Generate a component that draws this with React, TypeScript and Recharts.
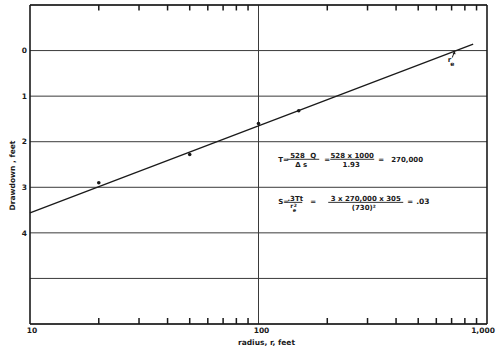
import React from 'react';
import {
  ComposedChart,
  Scatter,
  XAxis,
  YAxis,
  CartesianGrid,
  ReferenceLine,
  ReferenceDot,
} from 'recharts';

// observed drawdown in observation wells
const wellRadius = [20, 50, 100, 150];
const wellDrawdown = [2.9, 2.28, 1.6, 1.32];

// straight line fitted through the points
const fitRadius = [10, 870];
const fitDrawdown = [3.56, -0.14];

const radiusTicks = [10, 20, 30, 40, 50, 60, 70, 80, 90, 100, 200, 300, 400, 500, 600, 700, 800, 900, 1000];
const radiusLabels: Record<number, string> = { 10: '10', 100: '100', 1000: '1,000' };
const drawdownTicks = [-1, 0, 1, 2, 3, 4, 5, 6];
const drawdownLabels = [0, 1, 2, 3, 4];

const reRadius = 730;

const wells = wellRadius.map((r, i) => ({ r, s: wellDrawdown[i] }));
const fit = fitRadius.map((r, i) => ({ r, s: fitDrawdown[i] }));

const INK = '#1a1a1a';
const GRID = '#3a3a3a';
const FONT = '"DejaVu Sans", sans-serif';
const txt = { fontFamily: FONT, fontWeight: 700, fill: INK } as const;

// frame limits and the small inward tick marks along top and bottom
const yTop = drawdownTicks[0];
const yBottom = drawdownTicks[drawdownTicks.length - 1];
const minorTicks = radiusTicks.filter((r) => !radiusLabels[r]);
const TOP_TICK = 0.12; // drawdown units, about 5-6 px

// label nudges so the numbers sit like the hand lettering
const labelDx: Record<number, number> = { 10: 2, 100: 3, 1000: -4 };

const BottomTick = (props: any) => {
  const { x, y, payload } = props;
  const v = payload.value as number;
  const label = radiusLabels[v];
  if (label) {
    return (
      <text x={x + (labelDx[v] || 0)} y={y + 9} textAnchor="middle" fontSize={7.5} style={txt}>
        {label}
      </text>
    );
  }
  return <rect x={x - 0.75} y={y - 6} width={1.5} height={6} fill={INK} />;
};

const WellDot = (props: any) => <circle cx={props.cx} cy={props.cy} r={1.8} fill={INK} />;
const NoDot = () => <g />;

const ReMark = (props: any) => {
  const { cx, cy } = props;
  return (
    <g>
      <line x1={cx - 1.5} y1={cy + 1.5} x2={cx - 3.5} y2={cy + 7} stroke={INK} strokeWidth={1} />
      <polygon points={`${cx - 1},${cy + 0.5} ${cx - 3.2},${cy + 3.5} ${cx - 0.2},${cy + 3.8}`} fill={INK} />
      <text x={cx - 8} y={cy + 11} fontSize={7} style={txt}>r</text>
      <text x={cx - 5.5} y={cy + 15.5} fontSize={6} style={txt}>e</text>
    </g>
  );
};

const Bar = ({ x1, x2, y }: { x1: number; x2: number; y: number }) => (
  <line x1={x1} x2={x2} y1={y} y2={y} stroke={INK} strokeWidth={0.9} />
);

const FormulaT = (props: any) => {
  const { cx: ox, cy: oy } = props;
  return (
    <g fontSize={7} style={txt}>
      <text x={ox} y={oy + 2.5}>T=</text>
      <text x={ox + 12} y={oy - 1.5}>528</text>
      <text x={ox + 32} y={oy - 1.5}>Q</text>
      <Bar x1={ox + 9} x2={ox + 41} y={oy - 0.2} />
      <text x={ox + 23} y={oy + 7.5} textAnchor="middle">Δ s</text>
      <text x={ox + 46} y={oy + 2.5}>=</text>
      <text x={ox + 74} y={oy - 1.5} textAnchor="middle">528 x 1000</text>
      <Bar x1={ox + 52} x2={ox + 96} y={oy - 0.2} />
      <text x={ox + 73} y={oy + 7.5} textAnchor="middle">1.93</text>
      <text x={ox + 100} y={oy + 2.5}>=</text>
      <text x={ox + 113} y={oy + 2.5}>270,000</text>
    </g>
  );
};

const FormulaS = (props: any) => {
  const { cx: ox, cy: oy } = props;
  return (
    <g fontSize={7} style={txt}>
      <text x={ox} y={oy + 2.5}>S=</text>
      <text x={ox + 17} y={oy - 1} textAnchor="middle">.3Tt</text>
      <Bar x1={ox + 10} x2={ox + 24} y={oy + 0.5} />
      <text x={ox + 12} y={oy + 6.5} fontSize={6}>r</text>
      <text x={ox + 15.5} y={oy + 5} fontSize={4.5}>2</text>
      <text x={ox + 14.5} y={oy + 10} fontSize={5}>e</text>
      <text x={ox + 32} y={oy + 2.5}>=</text>
      <text x={ox + 87.5} y={oy - 1} textAnchor="middle">3 x 270,000 x 305</text>
      <Bar x1={ox + 50} x2={ox + 125} y={oy + 0.5} />
      <text x={ox + 85.5} y={oy + 8} textAnchor="middle">(730)²</text>
      <text x={ox + 129} y={oy + 2.5}>=</text>
      <text x={ox + 138} y={oy + 2.5} fontSize={7.5}>.03</text>
    </g>
  );
};

export default function App() {
  return (
    <div style={{ position: 'absolute', left: 0, top: 0, background: '#fff' }}>
      <ComposedChart width={500} height={350} margin={{ top: 5, right: 13, bottom: 0, left: 0 }}>
        <CartesianGrid vertical={false} stroke={GRID} strokeWidth={1} horizontalValues={drawdownTicks} />
        <XAxis
          dataKey="r"
          type="number"
          scale="log"
          domain={[10, 1000]}
          ticks={radiusTicks}
          interval={0}
          tickSize={0}
          tickMargin={0}
          tickLine={false}
          axisLine={false}
          height={26}
          tick={<BottomTick />}
          label={{
            value: 'radius, r, feet',
            position: 'insideBottom',
            offset: 5,
            dx: 8,
            style: { ...txt, fontSize: 7.5 },
          }}
        />
        <YAxis
          dataKey="s"
          type="number"
          reversed
          domain={[-1, 6]}
          ticks={drawdownTicks}
          interval={0}
          tickSize={0}
          tickMargin={3}
          tickLine={false}
          axisLine={false}
          width={30}
          tick={{ ...txt, fontSize: 7.5 }}
          tickFormatter={(v: number) => (drawdownLabels.includes(v) ? String(v) : '')}
          label={{
            content: ({ viewBox }: any) => {
              const x = viewBox.x + 13;
              const y = viewBox.y + viewBox.height / 2 + 11;
              return (
                <text x={x} y={y} transform={`rotate(-90, ${x}, ${y})`} textAnchor="middle" dominantBaseline="middle" fontSize={7.5} style={txt}>
                  Drawdown , feet
                </text>
              );
            },
          }}
        />
        {minorTicks.map((r) => (
          <ReferenceLine
            key={`t${r}`}
            segment={[{ x: r, y: yTop }, { x: r, y: yTop + TOP_TICK }]}
            stroke={INK}
            strokeWidth={1.5}
          />
        ))}
        <ReferenceLine x={100} stroke={GRID} strokeWidth={1} />
        <ReferenceLine x={10} stroke={INK} strokeWidth={1.6} />
        <ReferenceLine x={1000} stroke={INK} strokeWidth={1.6} />
        <ReferenceLine y={yTop} stroke={INK} strokeWidth={1.4} />
        <ReferenceLine y={yBottom} stroke={INK} strokeWidth={1.6} />
        <Scatter data={fit} line={{ stroke: INK, strokeWidth: 1.3 }} shape={<NoDot />} isAnimationActive={false} />
        <Scatter data={wells} shape={<WellDot />} isAnimationActive={false} />
        <ReferenceDot x={reRadius} y={0} r={0} shape={<ReMark />} />
        <ReferenceDot x={122} y={2.39} r={0} shape={<FormulaT />} />
        <ReferenceDot x={122} y={3.32} r={0} shape={<FormulaS />} />
      </ComposedChart>
    </div>
  );
}
